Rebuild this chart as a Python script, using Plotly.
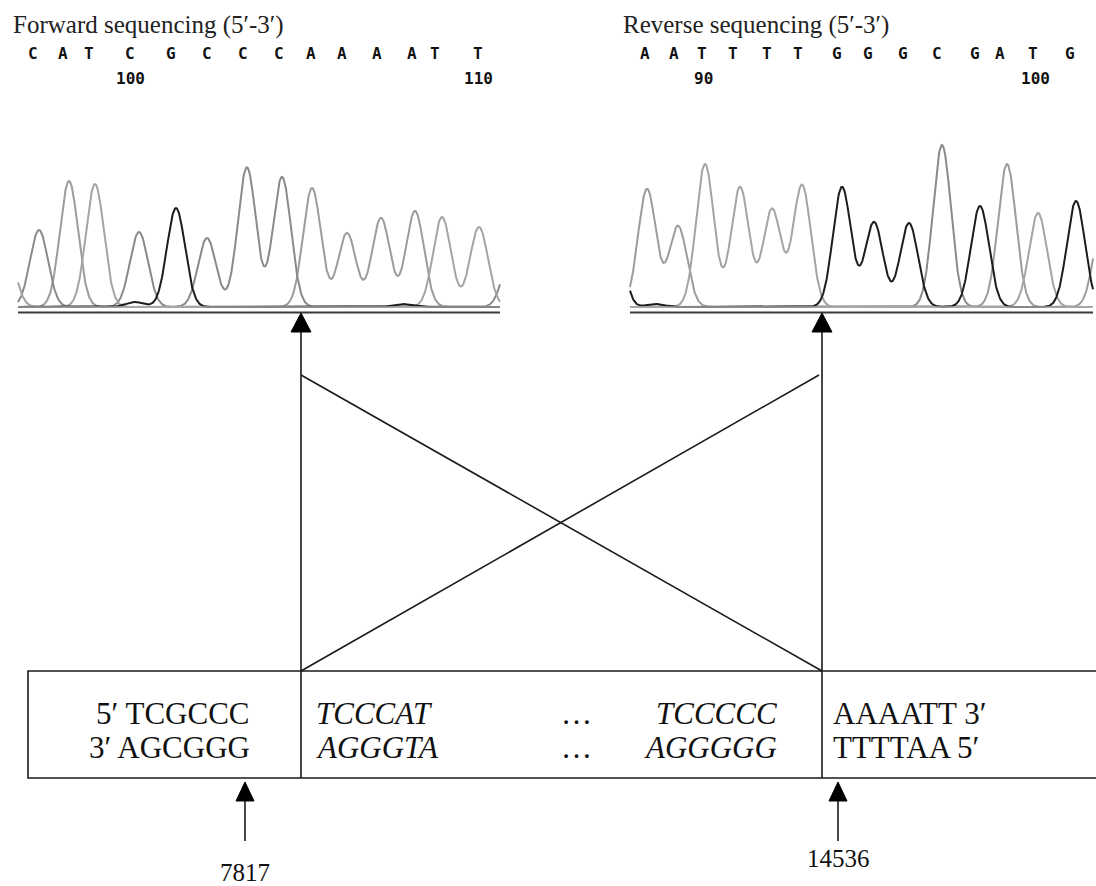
import numpy as np
import plotly.graph_objects as go

W, H = 1096, 886

# ---------------- data ----------------
fwd_title = "Forward sequencing (5′-3′)"
rev_title = "Reverse sequencing (5′-3′)"

fwd_calls = list("CATCGCCCAAAATT")
fwd_call_x = [33, 63, 89, 130, 171, 207, 243, 279, 311, 342, 377, 412, 435, 478]
fwd_pos_labels = ["100", "110"]
fwd_pos_x = [130, 478]

rev_calls = list("AATTTTGGGCGATG")
rev_call_x = [645, 674, 702, 733, 767, 798, 837, 868, 903, 937, 975, 1000, 1033, 1070]
rev_pos_labels = ["90", "100"]
rev_pos_x = [703, 1035]

# chromatogram peaks: channel, centre, height (signal units above baseline)
fwd_peak_base = ["T", "C", "A", "T", "G", "C", "G", "C", "C", "C", "C", "A", "A", "A", "A", "G", "T", "T", "C"]
fwd_peak_x    = [6,   39,  69,  95,  135, 139, 176, 207, 237, 247, 282, 312, 347, 381, 415, 402, 442, 479, 512]
fwd_peak_h    = [60,  77,  126, 123, 5,   75,  99,  69,  3,   138, 130, 119, 74,  89,  96,  3,   90,  80,  55]

rev_peak_base = ["G", "A", "G", "A", "T", "T", "T", "T", "G", "G", "G", "C", "G", "A", "T", "G", "A"]
rev_peak_x    = [612, 647, 655, 678, 705, 740, 772, 802, 842, 874, 909, 942, 980, 1007, 1038, 1076, 1103]
rev_peak_h    = [120, 118, 3,   81,  143, 120, 98,  122, 120, 85,  84,  162, 101, 143, 94,  106, 90]

channel_color = {"A": "#9c9c9c", "C": "#8a8a8a", "T": "#a4a4a4", "G": "#1c1c1c"}

box_left_top = ["5′ TCGCCC"]
box_left_bot = ["3′ AGCGGG"]
box_mid_top = ["TCCCAT", "…", "TCCCCC"]
box_mid_bot = ["AGGGTA", "…", "AGGGGG"]
box_right_top = ["AAAATT 3′"]
box_right_bot = ["TTTTAA 5′"]
breakpoints = ["7817", "14536"]

# ---------------- layout constants ----------------
SIG = 9.0
fwd_span = (18, 500)
rev_span = (630, 1093)
base_y = 307
junction_x = [301, 822]
box_top, box_bot, box_left = 671, 778, 28
cross_top = 375
bp_arrow_x = [245, 838]
bp_text_y = [872, 858]

fig = go.Figure()


def chrom(span, bases, xs, hs):
    grid = np.arange(span[0], span[1] + 0.25, 0.5)
    for ch in ["A", "C", "T", "G"]:
        sig = np.zeros_like(grid)
        for b, x0, h in zip(bases, xs, hs):
            if b == ch:
                sig += h * np.exp(-((grid - x0) ** 2) / (2 * SIG ** 2))
        fig.add_trace(go.Scatter(x=grid, y=base_y - sig, mode="lines",
                                 line=dict(color=channel_color[ch], width=2),
                                 hoverinfo="skip", showlegend=False))


chrom(fwd_span, fwd_peak_base, fwd_peak_x, fwd_peak_h)
chrom(rev_span, rev_peak_base, rev_peak_x, rev_peak_h)

shapes = []
# baselines (double line)
for span in (fwd_span, rev_span):
    shapes.append(dict(type="line", x0=span[0], x1=span[1], y0=base_y, y1=base_y,
                       line=dict(color="#a8a8a8", width=1.5)))
    shapes.append(dict(type="line", x0=span[0], x1=span[1], y0=base_y + 5.5, y1=base_y + 5.5,
                       line=dict(color="#3a3a3a", width=2)))

# junction arrows + dividers
for jx in junction_x:
    shapes.append(dict(type="line", x0=jx, x1=jx, y0=325, y1=box_bot,
                       line=dict(color="#1a1a1a", width=1.6)))
    shapes.append(dict(type="path", path=f"M {jx-10},332 L {jx+10},332 L {jx},313 Z",
                       fillcolor="#000", line=dict(color="#000", width=1)))

# crossing lines
shapes.append(dict(type="line", x0=junction_x[0], y0=cross_top, x1=junction_x[1], y1=box_top,
                   line=dict(color="#1a1a1a", width=1.6)))
shapes.append(dict(type="line", x0=junction_x[1] - 3, y0=cross_top, x1=junction_x[0], y1=box_top,
                   line=dict(color="#1a1a1a", width=1.6)))

# box
shapes.append(dict(type="path", path=f"M 1100,{box_top} L {box_left},{box_top} L {box_left},{box_bot} L 1100,{box_bot}",
                   line=dict(color="#1a1a1a", width=1.6)))

# breakpoint arrows
for bx in bp_arrow_x:
    shapes.append(dict(type="line", x0=bx, x1=bx, y0=795, y1=841,
                       line=dict(color="#1a1a1a", width=1.6)))
    shapes.append(dict(type="path", path=f"M {bx-9},801 L {bx+9},801 L {bx},782 Z",
                       fillcolor="#000", line=dict(color="#000", width=1)))

ann = []
serif = "Liberation Serif"
mono = "DejaVu Sans Mono"


def txt(x, y, s, size, font=serif, xanchor="center", color="#111", italic=False, bold=False):
    t = s
    if italic:
        t = f"<i>{t}</i>"
    if bold:
        t = f"<b>{t}</b>"
    ann.append(dict(x=x, y=y, text=t, showarrow=False, xanchor=xanchor, yanchor="middle",
                    font=dict(family=font, size=size, color=color)))


txt(11, 25, fwd_title, 25, xanchor="left", color="#222")
txt(621, 25, rev_title, 25, xanchor="left", color="#222")
for b, x in zip(fwd_calls, fwd_call_x):
    txt(x, 53, b, 16, font=mono, color="#111", bold=True)
for b, x in zip(rev_calls, rev_call_x):
    txt(x, 53, b, 16, font=mono, color="#111", bold=True)
for s, x in zip(fwd_pos_labels, fwd_pos_x):
    txt(x, 78, s, 16, font=mono, color="#111", bold=True)
for s, x in zip(rev_pos_labels, rev_pos_x):
    txt(x, 78, s, 16, font=mono, color="#111", bold=True)

FS = 31
txt(252, 713, box_left_top[0], FS, xanchor="right")
txt(252, 747, box_left_bot[0], FS, xanchor="right")
mid_x = [314, 576, 779]
mid_anchor = ["left", "center", "right"]
for s, x, a in zip(box_mid_top, mid_x, mid_anchor):
    txt(x, 713, s, FS, xanchor=a, italic=(s != "…"))
for s, x, a in zip(box_mid_bot, mid_x, mid_anchor):
    txt(x, 747, s, FS, xanchor=a, italic=(s != "…"))
txt(831, 713, box_right_top[0], FS, xanchor="left")
txt(831, 747, box_right_bot[0], FS, xanchor="left")

for s, x, y in zip(breakpoints, bp_arrow_x, bp_text_y):
    txt(x, y, s, 25)

fig.update_layout(
    width=W, height=H, margin=dict(l=0, r=0, t=0, b=0),
    paper_bgcolor="white", plot_bgcolor="white",
    xaxis=dict(range=[0, W], visible=False, fixedrange=True),
    yaxis=dict(range=[H, 0], visible=False, fixedrange=True),
    shapes=shapes, annotations=ann, showlegend=False,
)

fig.write_html("out.html", config={"displayModeBar": False},
               post_script="document.body.style.margin='0';document.body.style.overflow='hidden';")
